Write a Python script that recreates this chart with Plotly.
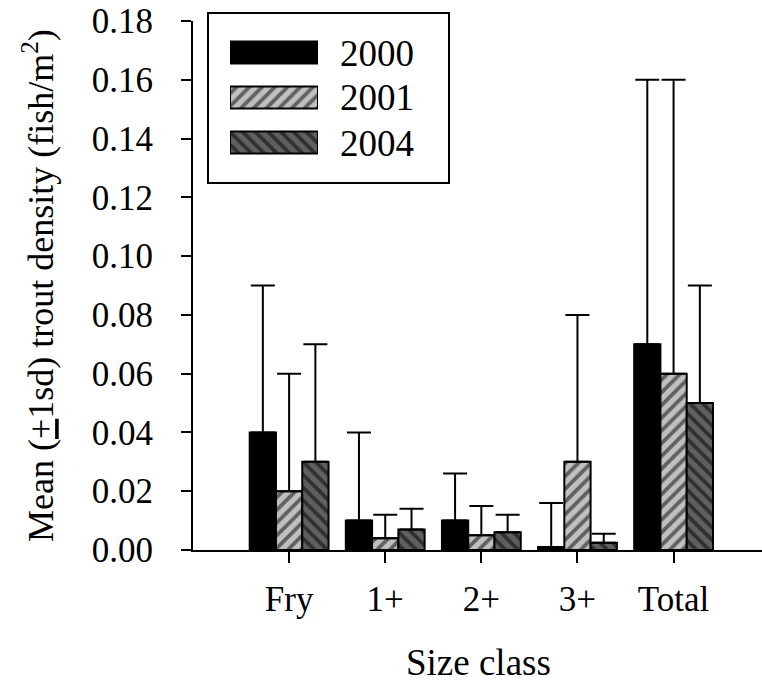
import plotly.graph_objects as go

categories = ["Fry", "1+", "2+", "3+", "Total"]
years = ["2000", "2001", "2004"]
mean_2000 = [0.040, 0.010, 0.010, 0.001, 0.070]
mean_2001 = [0.020, 0.004, 0.005, 0.030, 0.060]
mean_2004 = [0.030, 0.007, 0.006, 0.0025, 0.050]
sd_2000 = [0.050, 0.030, 0.016, 0.015, 0.090]
sd_2001 = [0.040, 0.008, 0.010, 0.050, 0.100]
sd_2004 = [0.040, 0.007, 0.006, 0.003, 0.040]
y_ticks = [0.00, 0.02, 0.04, 0.06, 0.08, 0.10, 0.12, 0.14, 0.16, 0.18]

means = [mean_2000, mean_2001, mean_2004]
sds = [sd_2000, sd_2001, sd_2004]
fills = ["black", "#c0c0c0", "#606060"]
hatches = ["", "/", "\\"]

FONT = "Liberation Serif"
fig = go.Figure()

def pattern(c, h):
    return dict(shape=h, fgcolor="black", bgcolor=c, size=9, solidity=0.42,
                fillmode="overlay")

xpos = list(range(len(categories)))
for yr, m, s, c, h in zip(years, means, sds, fills, hatches):
    fig.add_trace(go.Bar(
        x=xpos, y=m, name=yr, showlegend=False,
        marker=dict(color=c, line=dict(color="black", width=2), pattern=pattern(c, h)),
        error_y=dict(type="data", array=s, arrayminus=[0] * len(s),
                     symmetric=False, color="black", thickness=2, width=12),
    ))

# legend swatches drawn as bars on an inset axis
for i, (yr, c, h) in enumerate(zip(years, fills, hatches)):
    fig.add_trace(go.Bar(
        x=[1], y=[2 - i], orientation="h", width=0.49, showlegend=False,
        xaxis="x2", yaxis="y2", hoverinfo="skip",
        marker=dict(color=c, line=dict(color="black", width=2), pattern=pattern(c, h)),
    ))

L, R, T, B = 193, 0, 21, 136
W, H = 762, 686
pw, ph = W - L - R, H - T - B

def px_x(p):
    return (p - L) / pw

def px_y(p):
    return (H - B - p) / ph

for i, yr in enumerate(years):
    fig.add_annotation(x=px_x(338), y=px_y(53 + 45 * i), xref="paper", yref="paper",
                       text=yr, showarrow=False, xanchor="left", yanchor="middle",
                       font=dict(family=FONT, size=37, color="black"))

fig.add_shape(type="rect", xref="paper", yref="paper",
              x0=px_x(208), x1=px_x(449), y0=px_y(183), y1=px_y(13),
              line=dict(color="black", width=2), fillcolor="rgba(0,0,0,0)")

# axis titles
fig.add_annotation(x=px_x(38), y=px_y(286), xref="paper", yref="paper",
                   text="Mean (<u>+</u>1sd) trout density (fish/m<sup>2</sup>)",
                   textangle=-90, showarrow=False, xanchor="center", yanchor="middle",
                   font=dict(family=FONT, size=36, color="black"))
fig.add_annotation(x=px_x(478), y=px_y(662), xref="paper", yref="paper",
                   text="Size class", showarrow=False, xanchor="center", yanchor="middle",
                   font=dict(family=FONT, size=37, color="black"))

fig.update_layout(
    width=W, height=H,
    margin=dict(l=L, r=R, t=T, b=B),
    paper_bgcolor="white", plot_bgcolor="white",
    barmode="group", bargap=0.18, bargroupgap=0,
    font=dict(family=FONT, size=35, color="black"),
    xaxis=dict(
        range=[-1, 4.92], tickmode="array", tickvals=xpos, ticktext=categories,
        showline=True, linecolor="black", linewidth=2, showgrid=False, zeroline=False,
        ticks="outside", ticklen=11, tickwidth=2, tickcolor="black",
        tickfont=dict(family=FONT, size=35), ticklabelstandoff=6,
    ),
    yaxis=dict(
        range=[0, 0.18], tickmode="array", tickvals=y_ticks,
        ticktext=[f"{v:.2f}" for v in y_ticks],
        showline=True, linecolor="black", linewidth=2, showgrid=False, zeroline=False,
        ticks="outside", ticklen=10, tickwidth=2, tickcolor="black",
        tickfont=dict(family=FONT, size=35), ticklabelstandoff=21,
    ),
    xaxis2=dict(domain=[px_x(230), px_x(318)], range=[0, 1], visible=False,
                anchor="y2", fixedrange=True),
    yaxis2=dict(domain=[px_y(165), px_y(30)], range=[-0.5, 2.5], visible=False,
                anchor="x2", fixedrange=True),
)

fig.write_html("out.html")
